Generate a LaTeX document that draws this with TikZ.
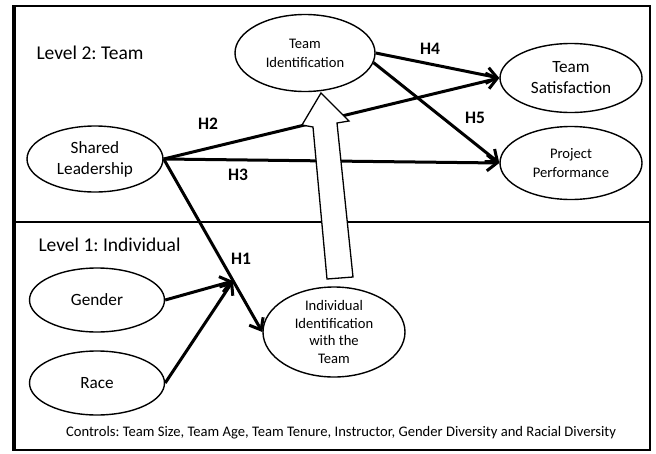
\documentclass[tikz,border=0pt]{standalone}
\usepackage{fontspec}
\setmainfont{Carlito}
\usetikzlibrary{arrows.meta,shapes.geometric}
\frenchspacing

\begin{document}
\begin{tikzpicture}[
    x = 1pt,
    y = -1pt,
    >={Straight Barb[length=10pt,width=16pt]},
    oval/.style = {
      draw,
      ellipse,
      fill = white,
      line width = 1.4pt,
      inner sep = 0pt,
      align = center
    },
    big/.style = {font=\fontsize{17.2}{21}\selectfont},
    small/.style = {font=\fontsize{14.6}{19}\selectfont},
    path/.style = {line width = 3pt, ->},
    hyp/.style = {font=\fontsize{17.5}{20}\selectfont\bfseries}
  ]
  \useasboundingbox (0,0) rectangle (656,453);

  \draw[line width = 2pt] (13,6) rectangle (650,450);
  \draw[line width = 4pt] (14,5) -- (14,451);
  \draw[line width = 2pt] (13,222) -- (650,222);

  \node[anchor=west, font=\fontsize{19.5}{22}\selectfont] (lvltwo) at (33,53) {Level 2: Team};
  \node[anchor=west, font=\fontsize{19.5}{22}\selectfont] (lvlone) at (35,245) {Level 1: Individual};

  \node[oval, big, minimum width=136pt, minimum height=66pt] (sl) at (95,159) {Shared\\Leadership};
  \node[oval, small, minimum width=140pt, minimum height=77pt] (ti) at (305,53) {Team\\Identification};
  \node[oval, big, minimum width=142pt, minimum height=69pt] (ts) at (571,78) {Team\\Satisfaction};
  \node[oval, small, minimum width=142pt, minimum height=73pt] (pp) at (571,163) {Project\\Performance};
  \node[oval, big, minimum width=135pt, minimum height=64pt] (g) at (97,300) {Gender};
  \node[oval, big, minimum width=135pt, minimum height=64pt] (r) at (97,383) {Race};
  \node[oval, small, font=\fontsize{14.6}{17.7}\selectfont, minimum width=142pt, minimum height=90pt] (ii) at (334,332) {Individual\\Identification\\with the\\Team};

  \coordinate (h1pt) at (233,281);

  \draw[path] (sl.east) -- (ts.west);
  \draw[path] (sl.east) -- (pp.west);
  \draw[path] (sl.east) -- (ii.west);
  \draw[path] (ti.east) -- (ts.west);
  \draw[path] (ti.-8) -- (pp.west);
  \draw[path] (g.east) -- (h1pt);
  \draw[path] (r.east) -- (h1pt);

  \draw[line width = 1.3pt, fill = white] (327,279) -- (313,127) -- (302,125) -- (321,93)
    -- (349,121) -- (337,123) -- (353,277) -- cycle;

  \node[hyp] (htwo) at (208,124) {H2};
  \node[hyp] (hthree) at (238,175) {H3};
  \node[hyp] (hone) at (241,259) {H1};
  \node[hyp] (hfour) at (430,49) {H4};
  \node[hyp] (hfive) at (475,118) {H5};

  \node[font=\fontsize{14.6}{16}\selectfont] (ctrl) at (341,433) {Controls: Team Size, Team Age, Team Tenure, Instructor, Gender Diversity and Racial Diversity};
\end{tikzpicture}
\end{document}
